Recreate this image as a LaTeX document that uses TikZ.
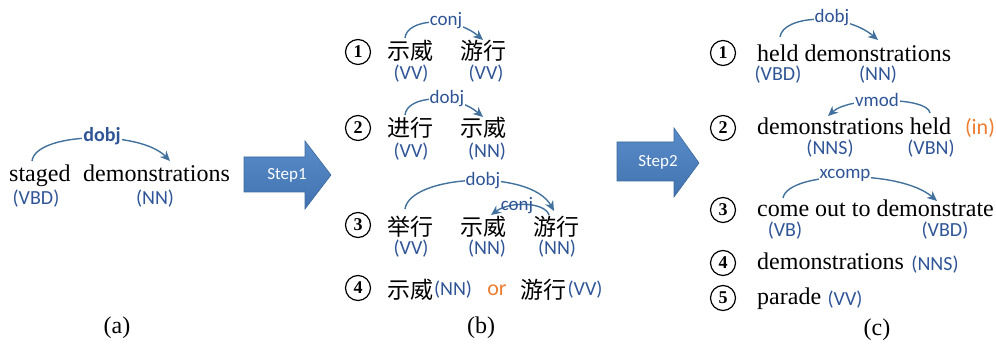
\documentclass[tikz,border=0pt]{standalone}
\usepackage{fontspec}
\setmainfont{Liberation Serif}
\newfontfamily\tagfont{Carlito}
\newfontfamily\cjkfont{Noto Sans CJK SC}
\usetikzlibrary{arrows.meta}
\definecolor{tagblue}{RGB}{47,85,151}
\definecolor{arcblue}{RGB}{65,113,156}
\definecolor{steptop}{RGB}{88,140,200}
\definecolor{stepbot}{RGB}{66,115,176}
\definecolor{stepedge}{RGB}{60,105,160}
\definecolor{orng}{RGB}{237,125,49}
\tikzset{
  word/.style={font=\fontsize{24}{24}\selectfont, inner sep=0pt, anchor=base west},
  cjk/.style={font=\cjkfont\fontsize{23}{23}\selectfont, inner sep=0pt, anchor=west},
  tag/.style={font=\tagfont\fontsize{20}{20}\selectfont, text=tagblue, inner sep=0pt},
  rel/.style={font=\tagfont\fontsize{19}{19}\selectfont, text=tagblue, fill=white, inner sep=1pt},
  orange/.style={font=\tagfont\fontsize{22}{22}\selectfont, text=orng, inner sep=0pt},
  arc/.style={draw=arcblue, line width=1.4pt, -{Stealth[length=10pt,width=9pt]}},
  num/.style={circle, draw, line width=1.2pt, minimum size=25pt, inner sep=0pt, font=\bfseries\fontsize{18}{18}\selectfont},
  stepshape/.style={top color=steptop, bottom color=stepbot, draw=stepedge, line width=0.6pt},
  steptext/.style={font=\tagfont\fontsize{17}{17}\selectfont, text=white, inner sep=0pt},
  caption/.style={font=\fontsize{24}{24}\selectfont, inner sep=0pt}
}
\begin{document}
\begin{tikzpicture}[x=1pt,y=-1pt]
\useasboundingbox (0,0) rectangle (996,344);

% ---------------- (a) ----------------
\node[word] (a1) at (9,182) {staged};
\node[word] (a2) at (83,182) {demonstrations};
\node[tag] (at1) at (36,199) {(VBD)};
\node[tag] (at2) at (155,199) {(NN)};
\coordinate (as) at (32,161);
\coordinate (ae) at (170,161);
\draw[arc] (as) .. controls (36,132) and (140,130) .. (ae);
\node[rel, font=\tagfont\bfseries\fontsize{20}{20}\selectfont] (al) at (102,136) {dobj};
\node[caption] (capa) at (117,328) {(a)};

% Step1 arrow
\draw[stepshape] (244,157) -- (305,157) -- (305,141) -- (331,175) -- (305,209) -- (305,192) -- (244,192) -- cycle;
\node[steptext] (s1) at (287,175) {Step1};

% ---------------- (b) ----------------
\node[num] (b1) at (358,52) {1};
\node[cjk] (b1a) at (387,51) {示威};
\node[cjk] (b1b) at (460,51) {游行};
\node[tag] (b1ta) at (411,74) {(VV)};
\node[tag] (b1tb) at (486,74) {(VV)};
\coordinate (b1s) at (405,38);
\coordinate (b1e) at (483,40);
\draw[arc] (b1s) .. controls (407,18) and (455,16) .. (b1e);
\node[rel] (b1l) at (446,21) {conj};

\node[num] (b2) at (358,128) {2};
\node[cjk] (b2a) at (387,128) {进行};
\node[cjk] (b2b) at (460,128) {示威};
\node[tag] (b2ta) at (411,152) {(VV)};
\node[tag] (b2tb) at (487,152) {(NN)};
\coordinate (b2s) at (405,115);
\coordinate (b2e) at (483,117);
\draw[arc] (b2s) .. controls (407,95) and (455,93) .. (b2e);
\node[rel] (b2l) at (447,99) {dobj};

\node[num] (b3) at (358,225) {3};
\node[cjk] (b3a) at (387,227) {举行};
\node[cjk] (b3b) at (460,227) {示威};
\node[cjk] (b3c) at (533,227) {游行};
\node[tag] (b3ta) at (411,249) {(VV)};
\node[tag] (b3tb) at (487,249) {(NN)};
\node[tag] (b3tc) at (557,249) {(NN)};
\coordinate (b3s) at (405,209);
\coordinate (b3e) at (554,211);
\draw[arc] (b3s) .. controls (410,175) and (530,168) .. (b3e);
\node[rel] (b3l) at (483,181) {dobj};
\coordinate (b3s2) at (549,215);
\coordinate (b3e2) at (491,215);
\draw[arc] (b3s2) .. controls (545,202) and (510,201) .. (b3e2);
\node[rel, fill=none] (b3l2) at (517,206) {conj};

\node[num] (b4) at (358,288) {4};
\node[cjk] (b4a) at (387,290) {示威};
\node[tag] (b4ta) at (453,290) {(NN)};
\node[orange] (b4or) at (497,290) {or};
\node[cjk] (b4b) at (520,290) {游行};
\node[tag] (b4tb) at (585,290) {(VV)};
\node[caption] (capb) at (481,328) {(b)};

% Step2 arrow
\draw[stepshape] (617,142) -- (674,142) -- (674,128) -- (699,163) -- (674,197) -- (674,181) -- (617,181) -- cycle;
\node[steptext] (s2) at (658,162) {Step2};

% ---------------- (c) ----------------
\node[num] (c1) at (723,53) {1};
\node[word] (c1w) at (757,62) {held demonstrations};
\node[tag] (c1ta) at (778,75) {(VBD)};
\node[tag] (c1tb) at (878,75) {(NN)};
\coordinate (c1s) at (780,37);
\coordinate (c1e) at (878,40);
\draw[arc] (c1s) .. controls (783,15) and (845,12) .. (c1e);
\node[rel] (c1l) at (832,18) {dobj};

\node[num] (c2) at (723,128) {2};
\node[word] (c2w) at (757,135) {demonstrations held};
\node[orange] (c2in) at (980,128) {(in)};
\node[tag] (c2ta) at (830,149) {(NNS)};
\node[tag] (c2tb) at (931,149) {(VBN)};
\coordinate (c2s) at (930,113);
\coordinate (c2e) at (828,116);
\draw[arc] (c2s) .. controls (928,97) and (850,96) .. (c2e);
\node[rel] (c2l) at (877,100) {vmod};

\node[num] (c3) at (723,210) {3};
\node[word] (c3w) at (757,217) {come out to demonstrate};
\node[tag] (c3ta) at (785,231) {(VB)};
\node[tag] (c3tb) at (945,231) {(VBD)};
\coordinate (c3s) at (783,198);
\coordinate (c3e) at (937,201);
\draw[arc] (c3s) .. controls (788,171) and (900,169) .. (c3e);
\node[rel] (c3l) at (845,175) {xcomp};

\node[num] (c4) at (723,263) {4};
\node[word] (c4w) at (757,270) {demonstrations};
\node[tag] (c4t) at (935,265) {(NNS)};

\node[num] (c5) at (723,298) {5};
\node[word] (c5w) at (757,305) {parade};
\node[tag] (c5t) at (845,300) {(VV)};
\node[caption] (capc) at (877,330) {(c)};
\end{tikzpicture}
\end{document}
